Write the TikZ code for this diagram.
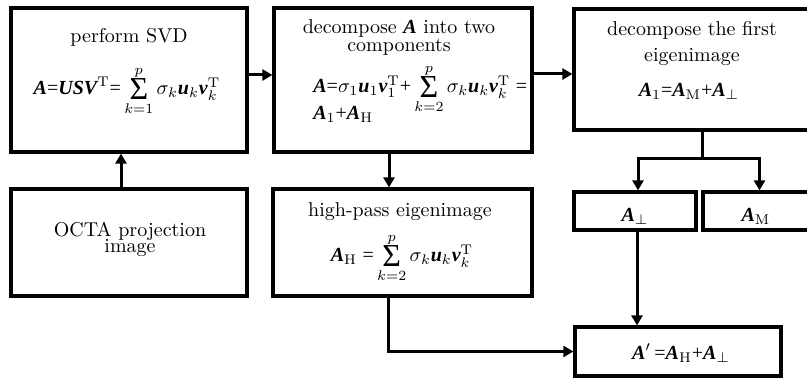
\documentclass[tikz,border=0pt]{standalone}
\usepackage{amsmath}
\usepackage{amssymb}
\usepackage{fontspec}
\usepackage{tikz}
\usetikzlibrary{arrows.meta,positioning}
\newfontfamily\tms{Liberation Serif}
\newcommand{\bsym}[1]{\text{\tms\bfseries\itshape #1}}
\newcommand{\teq}{\text{\tms =}}
\newcommand{\tpl}{\text{\tms +}}
\newcommand{\tsum}{\mathop{\raisebox{-2.5pt}{\tms\fontsize{16}{16}\selectfont Σ}}\limits}

\begin{document}
\begin{tikzpicture}[x=0.5pt,y=-0.5pt,font=\normalsize,
  box/.style={draw,line width=1.6pt,inner sep=0pt},
  link/.style={line width=1.5pt,-{Triangle[length=5pt,width=5.5pt]}},
  lbl/.style={anchor=base,inner sep=0pt}]
\useasboundingbox (0,0) rectangle (807,378);
\node[box,minimum width=118pt,minimum height=72pt] (svd) at (129,80) {};
\node[box,minimum width=129pt,minimum height=72pt] (decomp) at (403,80) {};
\node[box,minimum width=118pt,minimum height=60.5pt] (first) at (692,69.5) {};
\node[box,minimum width=118pt,minimum height=53.5pt] (octa) at (129,242.5) {};
\node[box,minimum width=129.5pt,minimum height=53.5pt] (highpass) at (402.5,242.5) {};
\node[box,minimum width=61pt,minimum height=19pt] (perp) at (635,211) {};
\node[box,minimum width=53.5pt,minimum height=19pt] (mcomp) at (756.5,211) {};
\node[box,minimum width=103pt,minimum height=24.5pt] (result) at (678,351.5) {};
\node[lbl] (svdtitle) at (129,43) {perform SVD};
\node[lbl] (svdeq) at (127,95)
  {$\bsym{A}\teq\bsym{USV}^{\mathrm{T}}\teq\tsum_{k=1}^{p}\sigma_k\bsym{u}_k\bsym{v}_k^{\mathrm{T}}$};
\node[lbl] (decomptitle) at (399,34) {decompose $\bsym{A}$ into two};
\node[lbl] (decomptitleb) at (399,52) {components};
\node[lbl,anchor=base west] (decompeq) at (313,93)
  {$\bsym{A}\teq\sigma_1\bsym{u}_1\bsym{v}_1^{\mathrm{T}}\tpl\tsum_{k=2}^{p}\sigma_k\bsym{u}_k\bsym{v}_k^{\mathrm{T}}\;\teq$};
\node[lbl,anchor=base west] (decompeqb) at (313,120) {$\bsym{A}_1\tpl\bsym{A}_{\mathrm{H}}$};
\node[lbl] (firsttitle) at (692,36) {decompose the first};
\node[lbl] (firsttitleb) at (692,62) {eigenimage};
\node[lbl] (firsteq) at (689,97) {$\bsym{A}_1\teq\bsym{A}_{\mathrm{M}}\tpl\bsym{A}_{\perp}$};
\node[lbl] (octatitle) at (130,237) {OCTA projection};
\node[lbl] (octatitleb) at (130,253) {image};
\node[lbl] (hptitle) at (400,217) {high-pass eigenimage};
\node[lbl] (hpeq) at (402,262)
  {$\bsym{A}_{\mathrm{H}}\;\teq\tsum_{k=2}^{p}\sigma_k\bsym{u}_k\bsym{v}_k^{\mathrm{T}}$};
\node[lbl] (perpeq) at (635,222) {$\bsym{A}_{\perp}$};
\node[lbl] (mcompeq) at (756,222) {$\bsym{A}_{\mathrm{M}}$};
\node[lbl] (resulteq) at (681,360) {$\bsym{A}'\,\teq\bsym{A}_{\mathrm{H}}\tpl\bsym{A}_{\perp}$};
\draw[link] ([yshift=2.5pt]svd.east) -- ([yshift=2.5pt]decomp.west);
\draw[link] ([yshift=3pt]decomp.east) -- ([yshift=3pt]decomp.east -| first.west);
\draw[link] ([xshift=-4pt]octa.north) -- ([xshift=-4pt]svd.south);
\draw[link] ([xshift=-7pt]decomp.south) -- ([xshift=-7pt]decomp.south |- highpass.north);
\coordinate (fork) at ([xshift=5pt,yshift=-13.5pt]first.south);
\draw[line width=1.5pt] ([xshift=5pt]first.south) -- (fork);
\draw[link] (fork) -| ([xshift=1.5pt]perp.north);
\draw[link] (fork) -| ([xshift=1.5pt]mcomp.north);
\draw[link] ([xshift=1pt]perp.south) -- ([xshift=1pt]perp.south |- result.north);
\draw[link] ([xshift=-7pt]highpass.south) |- (result.west);
\end{tikzpicture}
\end{document}
